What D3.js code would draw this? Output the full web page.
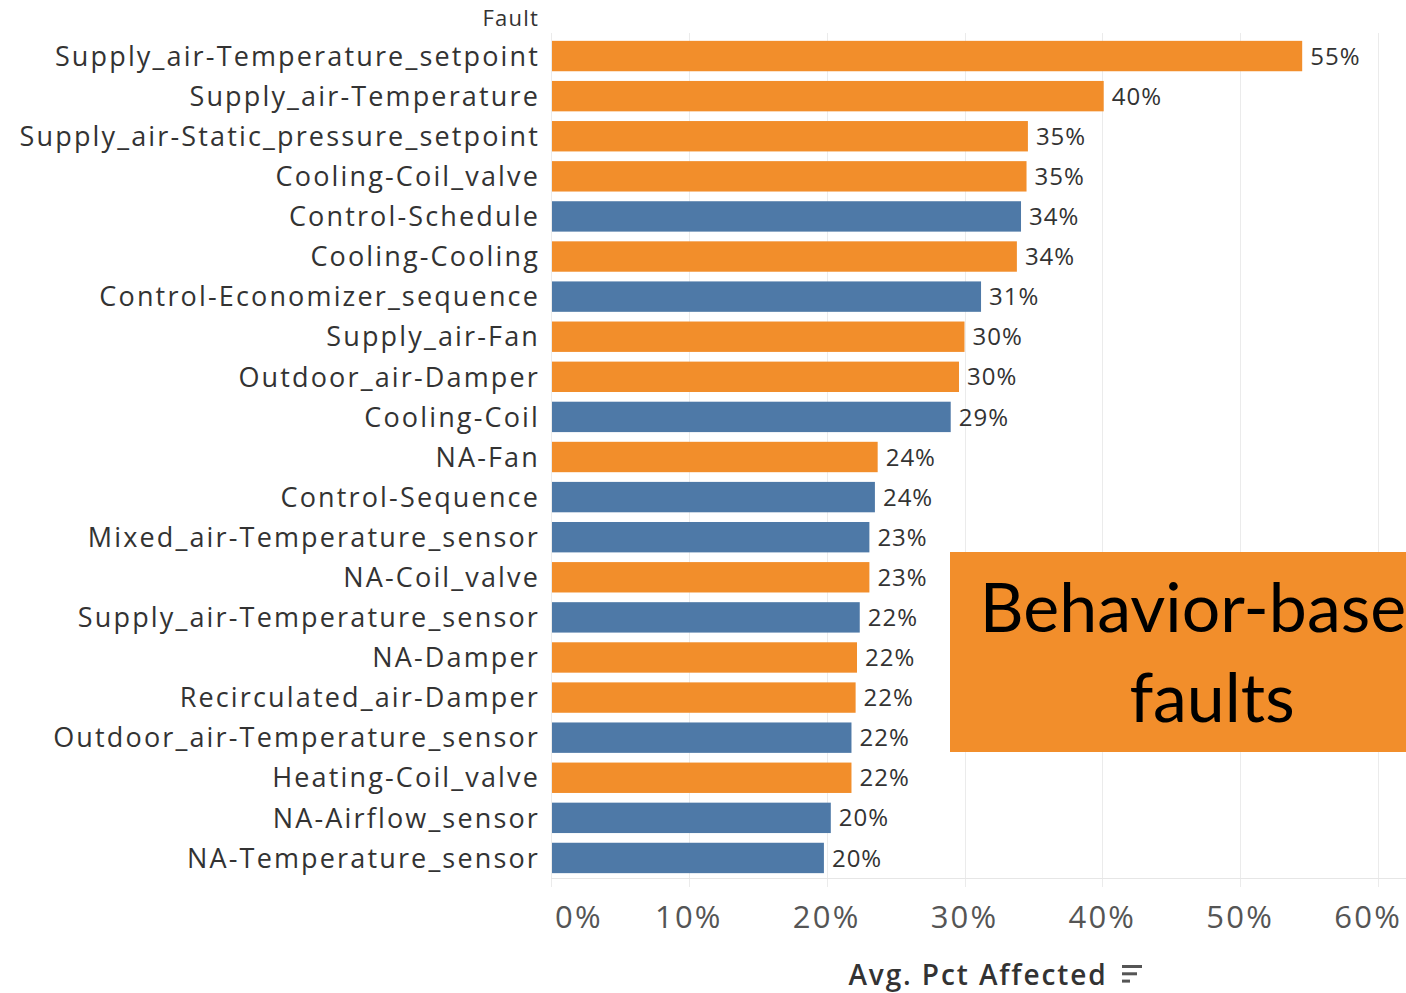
<!DOCTYPE html>
<html>
<head>
<meta charset="utf-8">
<script src="https://cdn.jsdelivr.net/npm/d3@7"></script>
<style>
  html, body { margin: 0; padding: 0; background: #fff; }
  svg { display: block; }
</style>
</head>
<body>
<svg id="chart" width="1406" height="993"></svg>
<script>
// Fault categories, sorted by average share of affected units (descending)
const faults = [
  "Supply_air-Temperature_setpoint",
  "Supply_air-Temperature",
  "Supply_air-Static_pressure_setpoint",
  "Cooling-Coil_valve",
  "Control-Schedule",
  "Cooling-Cooling",
  "Control-Economizer_sequence",
  "Supply_air-Fan",
  "Outdoor_air-Damper",
  "Cooling-Coil",
  "NA-Fan",
  "Control-Sequence",
  "Mixed_air-Temperature_sensor",
  "NA-Coil_valve",
  "Supply_air-Temperature_sensor",
  "NA-Damper",
  "Recirculated_air-Damper",
  "Outdoor_air-Temperature_sensor",
  "Heating-Coil_valve",
  "NA-Airflow_sensor",
  "NA-Temperature_sensor"
];

// Avg. Pct Affected (fraction)
const pctAffected = [
  0.545, 0.401, 0.346, 0.345, 0.341, 0.338, 0.312, 0.300, 0.296, 0.290,
  0.237, 0.235, 0.231, 0.231, 0.224, 0.222, 0.221, 0.218, 0.218, 0.203, 0.198
];

// Fault class: behavior-based faults vs. the rest
const faultClass = [
  "behavior", "behavior", "behavior", "behavior", "other", "behavior", "other",
  "behavior", "behavior", "other", "behavior", "other", "other", "behavior",
  "other", "behavior", "behavior", "other", "behavior", "other", "other"
];

const xTicks = [0, 0.1, 0.2, 0.3, 0.4, 0.5, 0.6];
const headerLabel = "Fault";
const axisTitle = "Avg. Pct Affected";
const calloutLines = ["Behavior-based", "faults"];

const rows = faults.map((f, i) => ({ fault: f, value: pctAffected[i], cls: faultClass[i] }));

const svg = d3.select("#chart");
const W = 1406;

const x = d3.scaleLinear().domain([0, 0.6]).range([551, 1378]);
const y = d3.scaleBand().domain(faults).range([36, 878]).paddingInner(0.242).paddingOuter(0.121);
const color = d3.scaleOrdinal().domain(["behavior", "other"]).range(["#F28E2B", "#4E79A7"]);
const pct = d3.format(".0%");

const labelFont = "'Open Sans', 'Noto Sans', sans-serif";

// vertical gridlines
svg.append("g").selectAll("line").data(xTicks).join("line")
  .attr("x1", d => Math.round(x(d)) + 0.5).attr("x2", d => Math.round(x(d)) + 0.5)
  .attr("y1", 33).attr("y2", 887)
  .attr("stroke", "#ebebeb").attr("stroke-width", 1);

// bottom axis line
svg.append("line")
  .attr("x1", 551).attr("x2", W).attr("y1", 878.5).attr("y2", 878.5)
  .attr("stroke", "#e6e6e6").attr("stroke-width", 1);

// bars
svg.append("g").selectAll("rect").data(rows).join("rect")
  .attr("x", x(0) + 1)
  .attr("y", d => y(d.fault))
  .attr("width", d => x(d.value) - x(0) - 1)
  .attr("height", y.bandwidth())
  .attr("fill", d => color(d.cls));

// value labels
svg.append("g").selectAll("text").data(rows).join("text")
  .attr("x", d => x(d.value) + 8)
  .attr("y", d => y(d.fault) + y.bandwidth() / 2)
  .attr("dy", "0.36em")
  .attr("font-family", labelFont)
  .attr("font-size", 24)
  .attr("letter-spacing", 1)
  .attr("fill", "#333")
  .text(d => pct(d.value));

// category labels
svg.append("g").selectAll("text").data(rows).join("text")
  .attr("x", 540)
  .attr("y", d => y(d.fault) + y.bandwidth() / 2)
  .attr("dy", "0.36em")
  .attr("text-anchor", "end")
  .attr("font-family", labelFont)
  .attr("font-size", 27)
  .attr("letter-spacing", 2.15)
  .attr("fill", "#333")
  .text(d => d.fault);

// header
svg.append("text")
  .attr("x", 539).attr("y", 26)
  .attr("text-anchor", "end")
  .attr("font-family", labelFont)
  .attr("font-size", 22)
  .attr("letter-spacing", 1.2)
  .attr("fill", "#333")
  .text(headerLabel);

// x tick labels (edge labels kept inside the plot)
svg.append("g").selectAll("text").data(xTicks).join("text")
  .attr("x", (d, i) => i === 0 ? x(d) + 4 : i === xTicks.length - 1 ? W - 4 : x(d))
  .attr("y", 928)
  .attr("text-anchor", (d, i) => i === 0 ? "start" : i === xTicks.length - 1 ? "end" : "middle")
  .attr("font-family", labelFont)
  .attr("font-size", 31)
  .attr("letter-spacing", 2.2)
  .attr("fill", "#555")
  .text(d => pct(d));

// axis title + sort indicator
svg.append("text")
  .attr("x", 978).attr("y", 985)
  .attr("text-anchor", "middle")
  .attr("font-family", labelFont)
  .attr("font-size", 28)
  .attr("font-weight", 600)
  .attr("letter-spacing", 1.9)
  .attr("fill", "#333")
  .text(axisTitle);

const sortIcon = svg.append("g").attr("fill", "#555");
[20, 15, 8].forEach((w, i) => {
  sortIcon.append("rect").attr("x", 1122).attr("y", 965 + i * 7.3).attr("width", w).attr("height", 3);
});

// callout box
svg.append("rect")
  .attr("x", 950).attr("y", 552).attr("width", 530).attr("height", 200)
  .attr("fill", "#F28E2B");

svg.append("g").selectAll("text").data(calloutLines).join("text")
  .attr("x", 1212)
  .attr("y", (d, i) => 632 + i * 90)
  .attr("text-anchor", "middle")
  .attr("font-family", "Lato, sans-serif")
  .attr("font-size", 68)
  .attr("fill", "#000")
  .text(d => d);
</script>
</body>
</html>
